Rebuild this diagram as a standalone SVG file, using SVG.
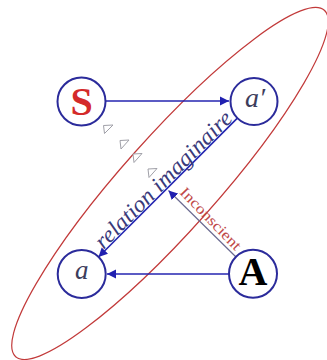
<svg xmlns="http://www.w3.org/2000/svg" width="327" height="360" viewBox="0 0 327 360">
<style>
.node{fill:#fff;stroke:#2b2b9b;stroke-width:2}
.conn{stroke:#2424b0;stroke-width:1.6;fill:none}
.thin{stroke:#6a6a90;stroke-width:1.2;fill:none}
.tri{fill:#fff;stroke:#a0a0a8;stroke-width:1}
.lbl{font-family:"Liberation Serif","Times New Roman",serif}
</style>
<defs>
<marker id="ah" markerWidth="10" markerHeight="10" refX="9" refY="5" orient="auto" markerUnits="userSpaceOnUse">
<path d="M0,0.5 L9,5 L0,9.5 z" fill="#2020b0"/>
</marker>
</defs>
<rect width="327" height="360" fill="#fff"/>
<ellipse cx="170" cy="183.5" rx="232" ry="47" transform="rotate(-48.3 170 183.5)" fill="none" stroke="#c23a3a" stroke-width="1.2"/>
<g id="triangles">
<path class="tri" d="M103.5,125.5 L113,125 L104.5,133.5 z"/>
<path class="tri" d="M120,140.5 L129,140 L121,149 z"/>
<path class="tri" d="M133,154 L142,153.5 L134,162.5 z"/>
<path class="tri" d="M148,169 L157,168.5 L149,177.5 z"/>
</g>
<g id="connectors">
<line class="conn" x1="106" y1="101" x2="229" y2="101" marker-end="url(#ah)"/>
<line class="conn" x1="229" y1="274" x2="107" y2="274" marker-end="url(#ah)"/>
<line class="conn" x1="237.4" y1="118.1" x2="98.5" y2="257" stroke-width="2" marker-end="url(#ah)"/>
<line class="thin" x1="236" y1="257" x2="168.5" y2="190.5" marker-end="url(#ah)"/>
<text class="lbl" x="0" y="0" font-size="23" font-style="italic" fill="#3a3a7a" textLength="184" lengthAdjust="spacingAndGlyphs" transform="translate(103.5,250) rotate(-45)">relation imaginaire</text>
<text class="lbl" x="0" y="0" font-size="15" fill="#c04848" textLength="81" lengthAdjust="spacingAndGlyphs" transform="translate(179,193) rotate(46)">Inconscient</text>
</g>
<g id="node-S">
<circle class="node" cx="81.5" cy="101.5" r="24"/>
<text class="lbl" x="81.5" y="115" font-size="40" font-weight="bold" fill="#d42a2a" text-anchor="middle">S</text>
</g>
<g id="node-a-prime">
<circle class="node" cx="254" cy="101.5" r="23.5"/>
<text class="lbl" x="255" y="106.7" font-size="28" font-style="italic" fill="#3d3d5c" text-anchor="middle">a′</text>
</g>
<g id="node-a">
<circle class="node" cx="81.7" cy="274" r="24"/>
<text class="lbl" x="81.7" y="279.3" font-size="27" font-style="italic" fill="#3d3d5c" text-anchor="middle">a</text>
</g>
<g id="node-A">
<circle class="node" cx="253" cy="273.7" r="24"/>
<text class="lbl" x="253" y="285" font-size="40" font-weight="bold" fill="#000" text-anchor="middle">A</text>
</g>
</svg>
